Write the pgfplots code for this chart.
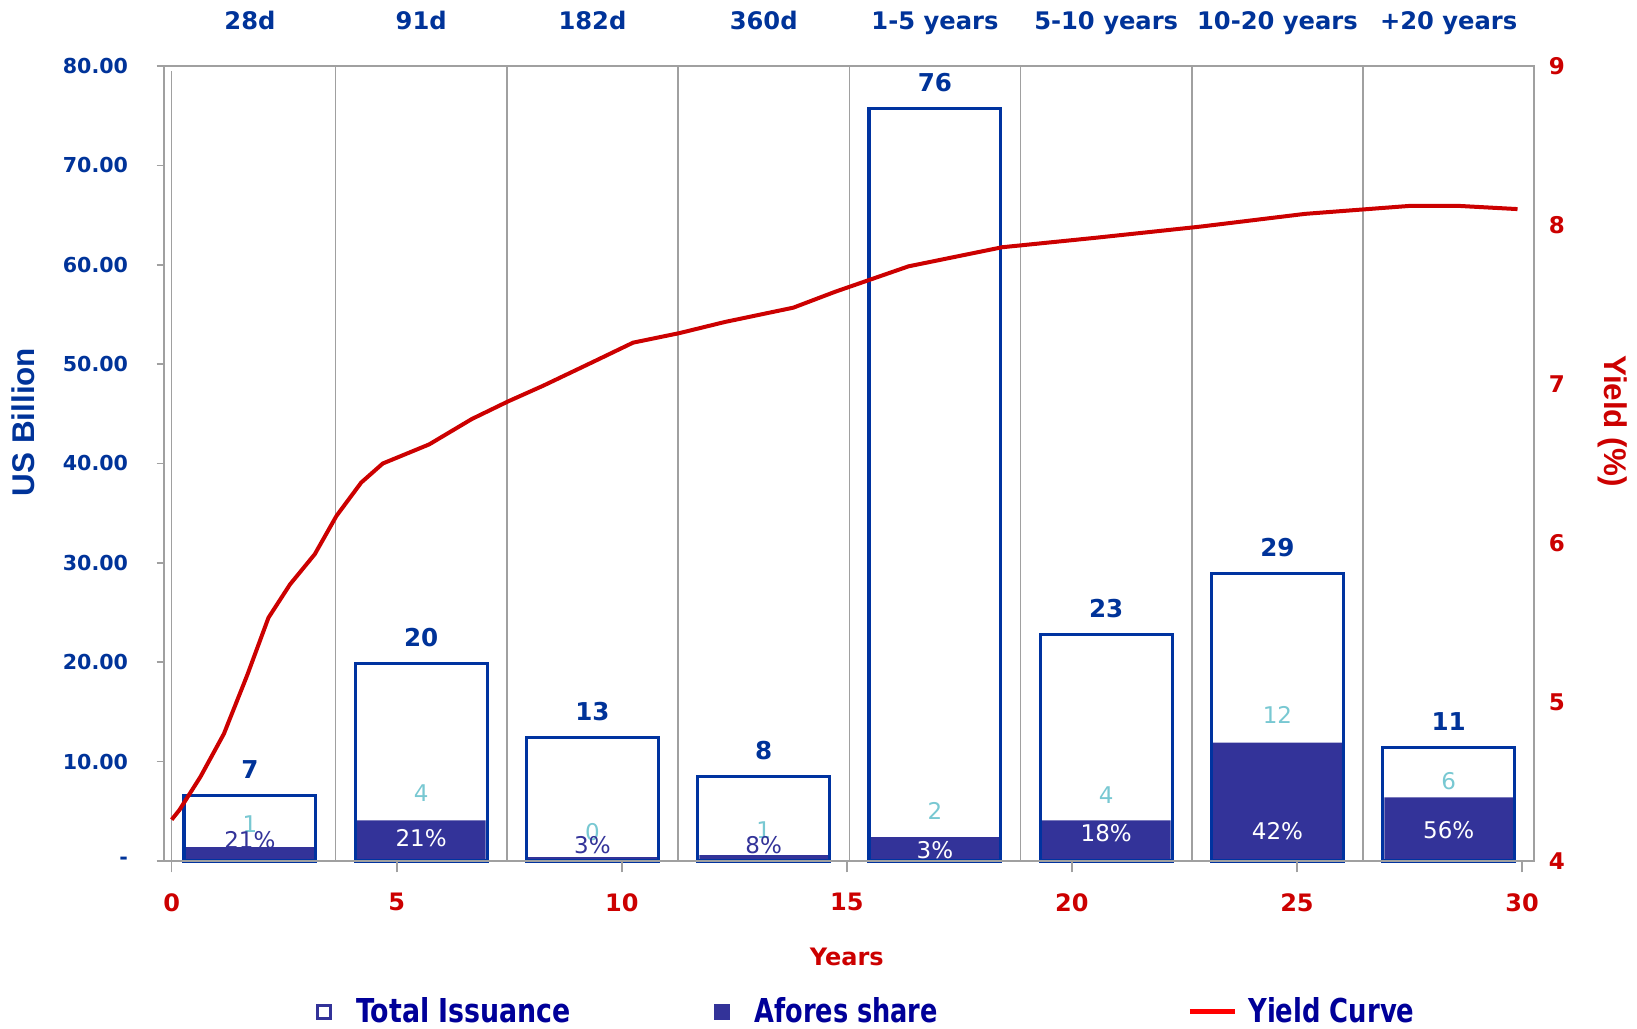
\documentclass[border=0pt]{standalone}
\usepackage{fontspec}
\setmainfont{DejaVu Sans}
\newfontfamily\arialfont{Liberation Sans}
\usepackage{pgfplots}
\pgfplotsset{compat=1.18}
\definecolor{cBlueText}{HTML}{003399}
\definecolor{cOutline}{HTML}{0033A0}
\definecolor{cFill}{HTML}{333399}
\definecolor{cTeal}{HTML}{78C8D2}
\definecolor{cRed}{HTML}{CC0000}
\definecolor{cLegRed}{HTML}{FF0000}
\definecolor{cLegend}{HTML}{000099}
\definecolor{cGrid}{HTML}{A0A0A0}
\newcommand\totlab[3]{\node[anchor=base, inner sep=0pt, font=\fontsize{12.3}{14}\selectfont\bfseries, text=cBlueText] at (axis cs:#1,#2) [yshift=8.5pt] {#3};}
\newcommand\aflab[3]{\node[anchor=center, inner sep=0pt, font=\fontsize{11.5}{13}\selectfont, text=cTeal] at (axis cs:#1,#2) {#3};}
\newcommand\pclab[4]{\node[anchor=center, inner sep=0pt, font=\fontsize{11.5}{13}\selectfont, text=#4] at (axis cs:#1,#2) {#3\%};}
\newcommand\catlab[2]{\node[anchor=base, inner sep=0pt, font=\fontsize{12.1}{14}\selectfont\bfseries, text=cBlueText] at (axis cs:#1,80) [yshift=18.1pt] {#2};}
\begin{document}
\begin{tikzpicture}
\useasboundingbox (0,0) rectangle (818.5pt,514pt);
% ---------- category axis (bars) ----------
\begin{axis}[
  at={(82.15pt,83.5pt)}, anchor=south west, scale only axis,
  width=685pt, height=397.5pt,
  xmin=0, xmax=8, ymin=0, ymax=80,
  axis line style={draw=cGrid, line width=1pt},
  xtick={1,2,3,4,5,6,7}, xticklabels={}, xmajorgrids,
  major grid style={draw=cGrid, line width=0.8pt},
  xtick style={draw=none},
  ytick={0,10,20,30,40,50,60,70,80},
  yticklabels={-,10.00,20.00,30.00,40.00,50.00,60.00,70.00,80.00},
  ytick pos=left, tick align=outside, major tick length=3.8pt,
  ytick style={draw=cGrid, line width=0.8pt},
  yticklabel style={font=\fontsize{10.3}{12}\selectfont\bfseries, text=cBlueText, xshift=-10.8pt},
  ybar, bar width=0.77, bar shift=0pt,
  clip=false,
]
\addplot[ybar, bar shift=0pt, fill=white, draw=cOutline, line width=1.6pt]
  coordinates {(0.5,6.6) (1.5,19.9) (2.5,12.4) (3.5,8.5) (4.5,75.7) (5.5,22.8) (6.5,28.9) (7.5,11.4)};
\addplot[ybar, bar shift=0pt, bar width=0.752, fill=cFill, draw=none]
  coordinates {(0.5,1.4) (1.5,4.1) (2.5,0.4) (3.5,0.6) (4.5,2.4) (5.5,4.1) (6.5,11.9) (7.5,6.4)};
\addplot[ybar, bar shift=0pt, fill=none, draw=cOutline, line width=1.6pt]
  coordinates {(0.5,6.6) (1.5,19.9) (2.5,12.4) (3.5,8.5) (4.5,75.7) (5.5,22.8) (6.5,28.9) (7.5,11.4)};
\totlab{0.5}{6.6}{7}\totlab{1.5}{19.9}{20}\totlab{2.5}{12.4}{13}\totlab{3.5}{8.5}{8}
\totlab{4.5}{75.7}{76}\totlab{5.5}{22.8}{23}\totlab{6.5}{28.9}{29}\totlab{7.5}{11.4}{11}
\aflab{0.5}{3.7}{1}\aflab{1.5}{6.8}{4}\aflab{2.5}{2.9}{0}\aflab{3.5}{3.15}{1}
\aflab{4.5}{5.0}{2}\aflab{5.5}{6.6}{4}\aflab{6.5}{14.7}{12}\aflab{7.5}{8.0}{6}
\pclab{0.5}{2.1}{21}{cFill}\pclab{1.5}{2.3}{21}{white}\pclab{2.5}{1.6}{3}{cFill}\pclab{3.5}{1.6}{8}{cFill}
\pclab{4.5}{1.05}{3}{white}\pclab{5.5}{2.8}{18}{white}\pclab{6.5}{3.0}{42}{white}\pclab{7.5}{3.15}{56}{white}
\catlab{0.5}{28d}\catlab{1.5}{91d}\catlab{2.5}{182d}\catlab{3.5}{360d}
\catlab{4.5}{1-5 years}\catlab{5.5}{5-10 years}\catlab{6.5}{10-20 years}\catlab{7.5}{+20 years}
\end{axis}
% ---------- years / yield axis ----------
\begin{axis}[
  at={(82.15pt,83.5pt)}, anchor=south west, scale only axis,
  width=685pt, height=397.5pt,
  xmin=-0.164, xmax=30.273, ymin=4, ymax=9,
  axis x line*=bottom, axis y line*=right,
  axis line style={draw=cGrid, line width=1pt},
  xtick={0,5,10,15,20,25,30}, ytick={4,5,6,7,8,9},
  tick align=outside, major tick length=5.7pt,
  xtick style={draw=cGrid, line width=0.8pt},
  ytick style={draw=none},
  /pgf/number format/assume math mode=true,
  xticklabel style={font=\fontsize{12}{14}\selectfont\bfseries, text=cRed, yshift=-7pt},
  yticklabel style={font=\fontsize{11.5}{14}\selectfont\bfseries, text=cRed, xshift=-2pt},
  clip=false,
  legend columns=3,
  legend cell align=left,
  legend style={at={(0.11073,-0.1895)}, anchor=west, draw=none, fill=none,
    inner sep=0pt, outer sep=0pt, column sep=0pt, row sep=0pt,
    nodes={inner sep=0pt, outer sep=0pt},
    font=\bfseries, text=cLegend},
]
\draw[cGrid, line width=0.8pt] (axis cs:0,4) -- (axis cs:0,8.97);
\addlegendimage{legend image code/.code={
  \draw[draw=cFill, line width=1.5pt, fill=white] (0.75pt,-3.25pt) rectangle (7.25pt,3.25pt);
  \path[draw=none, fill=none] (0pt,0pt) -- (20pt,0pt);}}
\addlegendentry{\makebox[179pt][l]{\resizebox{107.5pt}{12.5pt}{Total Issuance}}}
\addlegendimage{legend image code/.code={
  \fill[cFill] (0pt,-3.75pt) rectangle (7.5pt,3.75pt);
  \path[draw=none, fill=none] (0pt,0pt) -- (20pt,0pt);}}
\addlegendentry{\makebox[216.5pt][l]{\resizebox{91.8pt}{12.5pt}{Afores share}}}
\addplot[draw=cRed, line width=2pt, line join=round, mark=none,
  legend image code/.code={
  \draw[cLegRed, line width=2.5pt] (0pt,0pt) -- (22.5pt,0pt);
  \path[draw=none, fill=none] (0pt,0pt) -- (29.25pt,0pt);}]
  coordinates {
  (0,4.26) (0.17,4.32) (0.64,4.53) (1.16,4.80) (1.68,5.17) (2.15,5.53)
  (2.63,5.74) (3.18,5.93) (3.66,6.17) (4.21,6.38) (4.69,6.50) (5.72,6.62)
  (6.67,6.78) (7.47,6.89) (8.26,6.99) (9.37,7.14) (10.25,7.26) (11.28,7.32)
  (12.29,7.39) (13.81,7.48) (14.74,7.58) (16.37,7.74) (18.45,7.86)
  (20.54,7.92) (22.86,7.99) (25.18,8.07) (27.5,8.12) (28.6,8.12) (29.9,8.10)};
\addlegendentry{\resizebox{83pt}{12.5pt}{Yield Curve}}
\end{axis}
% axis titles
\node[rotate=90, font=\arialfont\fontsize{15.7}{18}\selectfont\bfseries, text=cBlueText] at (11.5pt,303pt) {US Billion};
\node[rotate=-90, font=\arialfont\fontsize{15.7}{18}\selectfont\bfseries, text=cRed] at (806.5pt,303.5pt) {Yield (\%)};
\node[font=\fontsize{12}{14}\selectfont\bfseries, text=cRed] at (423.4pt,35.3pt) {Years};
\end{tikzpicture}
\end{document}
